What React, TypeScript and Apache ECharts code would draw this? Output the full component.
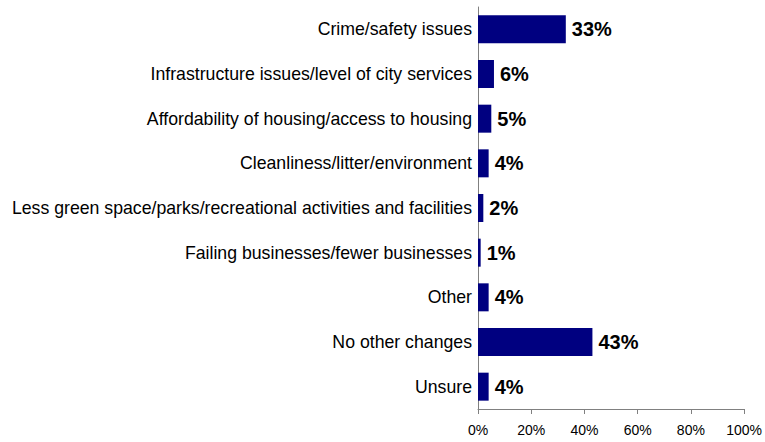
import React, { useEffect, useRef } from "react";
import * as echarts from "echarts";

const categories = [
  "Crime/safety issues",
  "Infrastructure issues/level of city services",
  "Affordability of housing/access to housing",
  "Cleanliness/litter/environment",
  "Less green space/parks/recreational activities and facilities",
  "Failing businesses/fewer businesses",
  "Other",
  "No other changes",
  "Unsure",
];
const values = [33, 6, 5, 4, 2, 1, 4, 43, 4];
const xTicks = [0, 20, 40, 60, 80, 100];

export default function App() {
  const ref = useRef<HTMLDivElement>(null);
  useEffect(() => {
    document.body.style.margin = "0";
    const chart = echarts.init(ref.current!, null, { renderer: "svg" });
    chart.setOption({
      animation: false,
      backgroundColor: "#ffffff",
      textStyle: { fontFamily: "Liberation Sans, Arial, sans-serif" },
      grid: { left: 478, right: 19, top: 7, bottom: 33, containLabel: false },
      xAxis: {
        type: "value",
        min: xTicks[0],
        max: xTicks[xTicks.length - 1],
        interval: 20,
        axisLine: { show: true, lineStyle: { color: "#808080", width: 1 } },
        axisTick: { show: true, length: 5, lineStyle: { color: "#808080" } },
        splitLine: { show: false },
        axisLabel: {
          formatter: (v: number) => v + "%",
          color: "#000",
          fontSize: 14,
          margin: 14,
        },
      },
      yAxis: {
        type: "category",
        inverse: true,
        data: categories,
        axisLine: { show: true, lineStyle: { color: "#808080", width: 1 } },
        axisTick: { show: false },
        axisLabel: { color: "#000", fontSize: 17.7, margin: 6 },
      },
      series: [
        {
          type: "bar",
          data: values,
          barWidth: 28,
          itemStyle: { color: "#000080" },
          label: {
            show: true,
            position: "right",
            distance: 6,
            formatter: (p: any) => p.value + "%",
            color: "#000",
            fontSize: 20,
            fontWeight: "bold",
          },
        },
      ],
    });
    return () => chart.dispose();
  }, []);
  return <div ref={ref} style={{ width: 765, height: 442 }} />;
}
